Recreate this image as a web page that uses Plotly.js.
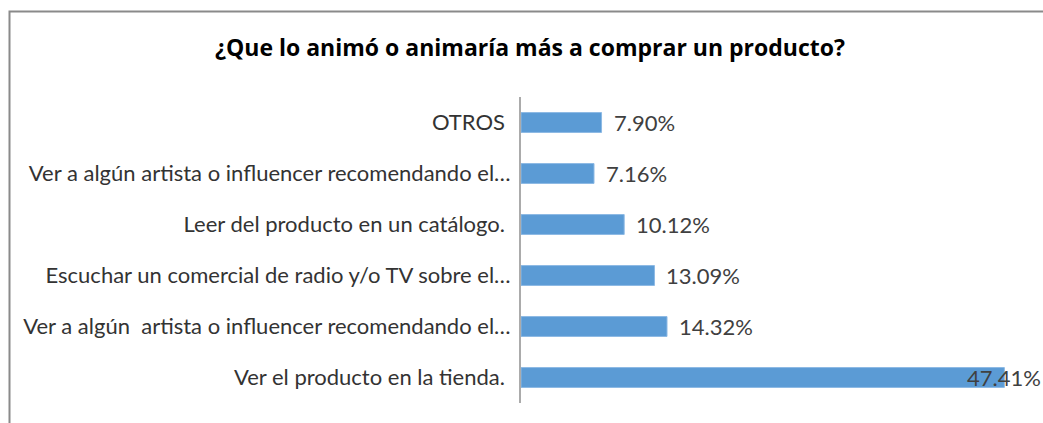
<!DOCTYPE html>
<html>
<head>
<meta charset="utf-8">
<script src="https://cdn.plot.ly/plotly-3.0.1.min.js"></script>
<style>html,body{margin:0;padding:0;background:#fff;overflow:hidden}</style>
</head>
<body>
<div id="chart" style="width:1043px;height:423px"></div>
<script>
// Data (bottom to top, as Plotly lays out horizontal categories)
const categories = [
  "Ver el producto en la tienda.\u00a0",
  "Ver a algún  artista o influencer recomendando el…",
  "Escuchar un comercial de radio y/o TV sobre el…",
  "Leer del producto en un catálogo.\u00a0",
  "Ver a algún artista o influencer recomendando el…",
  "OTROS\u00a0"
];
const values = [47.41, 14.32, 13.09, 10.12, 7.16, 7.90];
const valueLabels = ["47.41%", "14.32%", "13.09%", "10.12%", "7.16%", "7.90%"];
const chartTitle = "¿Que lo animó o animaría más a comprar un producto?";

const FONT = "Lato, 'Open Sans', sans-serif";
const TITLE_FONT = "'Open Sans', Lato, sans-serif";
const xMax = 51.2;

const trace = {
  type: "bar",
  orientation: "h",
  y: categories,
  x: values,
  marker: { color: "#5B9BD5", line: { color: "#8DB9E4", width: 1 } },
  hoverinfo: "none"
};

// value labels; a label that would run past the right edge is pinned to it
const annotations = values.map((v, i) => {
  const overflow = v / xMax > 0.9;
  return overflow ? {
    xref: "paper", x: 1, yref: "y", y: categories[i],
    text: valueLabels[i], showarrow: false, xanchor: "right", xshift: 0,
    font: { family: FONT, size: 22, color: "#404040" }
  } : {
    xref: "x", x: v, yref: "y", y: categories[i],
    text: valueLabels[i], showarrow: false, xanchor: "left", xshift: 10,
    font: { family: FONT, size: 22, color: "#404040" }
  };
});

const layout = {
  width: 1043, height: 423, autosize: false,
  margin: { l: 521, r: 0, t: 97, b: 20, pad: 0 },
  paper_bgcolor: "#ffffff", plot_bgcolor: "#ffffff",
  showlegend: false,
  bargap: 0.61,
  title: {
    text: "<b>" + chartTitle + "</b>",
    x: 530 / 1043, xanchor: "center", xref: "container",
    y: 1 - 48 / 423, yanchor: "middle", yref: "container",
    font: { family: TITLE_FONT, size: 23, color: "#000000" }
  },
  xaxis: {
    range: [0, xMax], showgrid: false, zeroline: false, showline: false,
    showticklabels: false, ticks: "", fixedrange: true
  },
  yaxis: {
    type: "category", range: [-0.5, 5.5],
    showgrid: false, zeroline: false,
    showline: true, linecolor: "#ababab", linewidth: 2,
    ticks: "outside", ticklen: 0, ticklabelstandoff: 4,
    tickfont: { family: FONT, size: 22, color: "#333333" },
    fixedrange: true
  },
  annotations: annotations,
  shapes: [{
    type: "rect", xref: "paper", yref: "paper",
    x0: (9.5 - 521) / 522, x1: 1.2, y0: -0.3, y1: (403 - 11.5) / 306,
    line: { color: "#8a8a8a", width: 2 }, fillcolor: "rgba(0,0,0,0)", layer: "below"
  }]
};

Plotly.newPlot("chart", [trace], layout, { staticPlot: true, displayModeBar: false });
</script>
</body>
</html>
